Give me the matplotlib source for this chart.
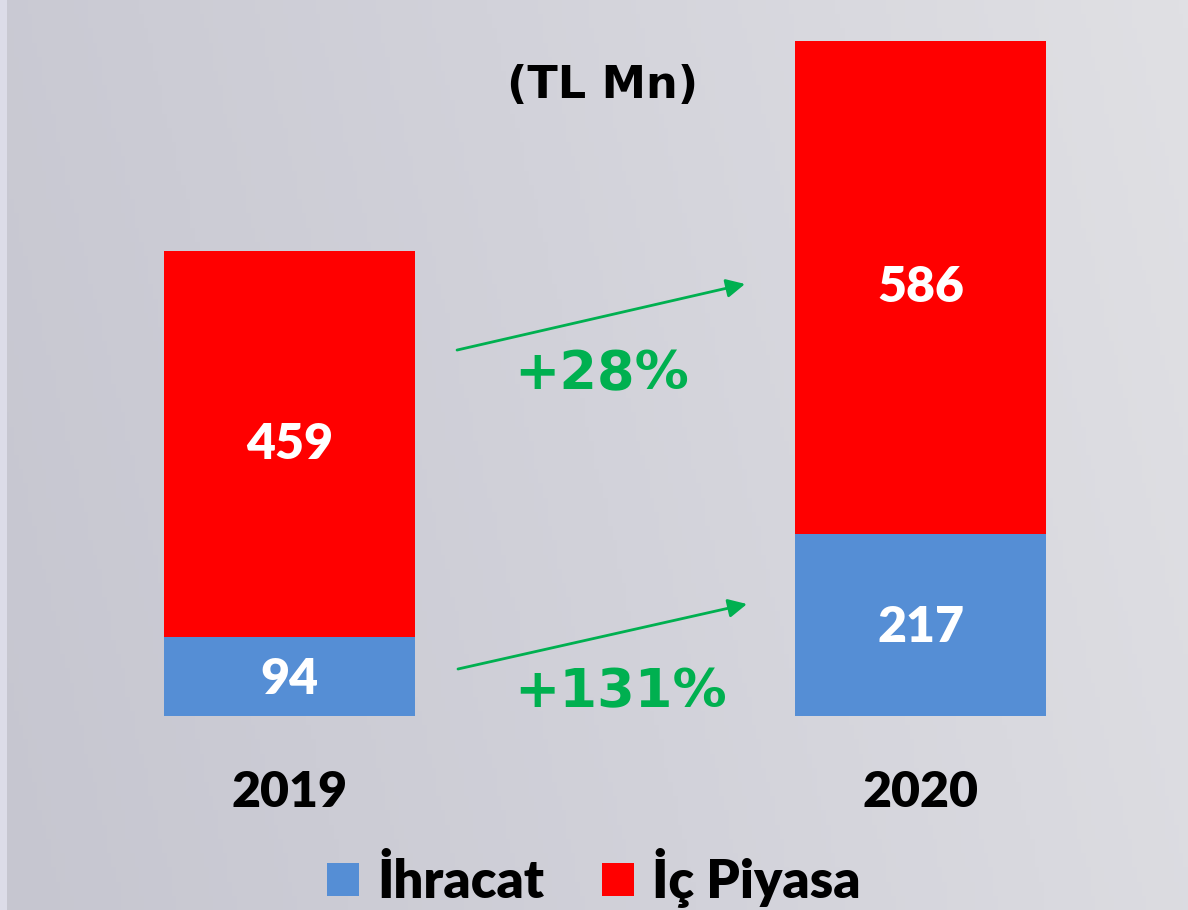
import numpy as np
import matplotlib.pyplot as plt
from matplotlib.colors import LinearSegmentedColormap

# ------------------------------------------------------
# Data
# ------------------------------------------------------
years = ["2019", "2020"]
ihracat = [94, 217]        # export (blue, bottom)
ic_piyasa = [459, 586]     # domestic market (red, top)
series_names = ["İhracat", "İç Piyasa"]
unit_label = "(TL Mn)"

# ------------------------------------------------------
# Style
# ------------------------------------------------------
BLUE = "#558ed5"
RED = "#ff0000"
GREEN = "#00b050"
CAL = ["Lato", "DejaVu Sans"]          # stand-in for Calibri bold
VER = ["DejaVu Sans"]                  # Verdana-like bold
W, H, DPI = 11.88, 9.10, 100

fig = plt.figure(figsize=(W, H), dpi=DPI)

# background gradient (grey-lavender, lighter to the right)
bg = fig.add_axes([0, 0, 1, 1], zorder=0)
cmap = LinearSegmentedColormap.from_list("bg", ["#c6c6d0", "#d2d2da", "#e0e0e4"])
gx = np.linspace(0, 1, 256)
gy = np.linspace(0, 1, 64)
grad = gx[None, :] * 0.85 + gy[:, None] * 0.15
bg.imshow(grad, cmap=cmap, aspect="auto", extent=[0, 1, 0, 1], origin="lower")
bg.axvspan(0, 7 / 1188, color="#dcdce8", lw=0)
bg.set_xlim(0, 1)
bg.set_ylim(0, 1)
bg.axis("off")

# main axes: bottom of bars sits at y=716px
ax = fig.add_axes([0, 194 / 910, 1, 716 / 910], zorder=1)
ax.patch.set_alpha(0)
x = np.arange(len(years))
bw = 0.398
b1 = ax.bar(x, ihracat, width=bw, color=BLUE, label=series_names[0])
b2 = ax.bar(x, ic_piyasa, width=bw, bottom=ihracat, color=RED, label=series_names[1])

ax.set_xlim(-0.4588, 1.4239)
ax.set_ylim(0, 851.7)
for s in ax.spines.values():
    s.set_visible(False)
ax.set_yticks([])
ax.set_xticks(x)
ax.set_xticklabels(years, family=CAL, fontweight="heavy", fontsize=36, color="black")
ax.tick_params(axis="x", length=0, pad=39)

# value labels inside segments
for i in range(len(years)):
    ax.text(x[i], ihracat[i] / 2 - 3, str(ihracat[i]), ha="center", va="center",
            color="white", fontsize=36, fontweight="heavy", family=CAL)
    ax.text(x[i], ihracat[i] + ic_piyasa[i] / 2, str(ic_piyasa[i]),
            ha="center", va="center", color="white", fontsize=36,
            fontweight="heavy", family=CAL)

# growth arrows and percentages
arrow_kw = dict(arrowstyle="-|>", color=GREEN, lw=2, mutation_scale=28,
                shrinkA=0, shrinkB=0)
ax.annotate("", xy=(0.7219, 513.9), xytext=(0.2655, 435.3), arrowprops=arrow_kw)
ax.annotate("", xy=(0.7250, 133.2), xytext=(0.2670, 55.9), arrowprops=arrow_kw)

g_dom = (ic_piyasa[1] / ic_piyasa[0] - 1) * 100
g_exp = (ihracat[1] / ihracat[0] - 1) * 100
ax.text(0.495, 406, f"+{g_dom:.0f}%", ha="center", va="center", color=GREEN,
        fontsize=39, fontweight="bold", family=VER)
ax.text(0.524, 28, f"+{g_exp:.0f}%", ha="center", va="center", color=GREEN,
        fontsize=39, fontweight="bold", family=VER)

# unit label
fig.text(603 / 1188, 1 - 85 / 910, unit_label, ha="center", va="center",
         fontsize=32, fontweight="bold", family=VER, color="black")

# legend
fig.legend(handles=[b1, b2], labels=series_names, loc="center",
           bbox_to_anchor=(594 / 1188, 1 - 878 / 910), ncol=2, frameon=False,
           prop=dict(family=CAL, weight="heavy", size=38),
           handlelength=0.6, handleheight=0.6, handletextpad=0.35,
           columnspacing=1.1, borderpad=0)

fig.savefig("out.png", dpi=DPI)
